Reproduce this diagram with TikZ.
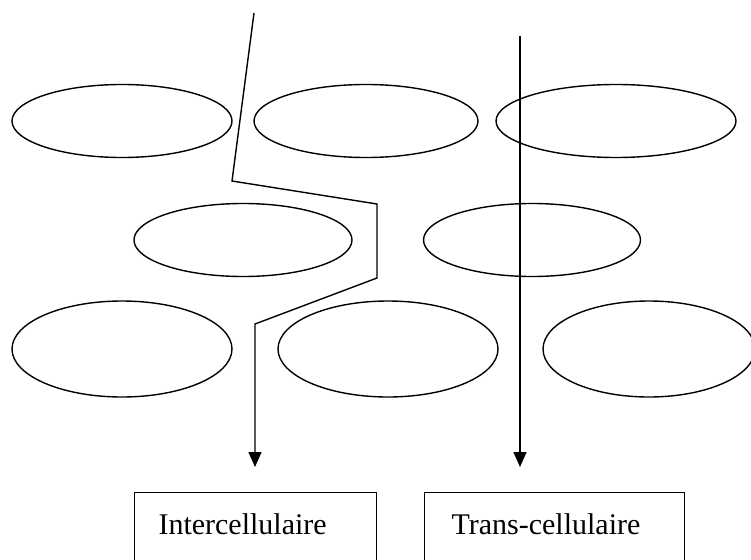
\documentclass[tikz,border=0pt]{standalone}
\usepackage{fontspec}
\setmainfont{Liberation Serif}
\usetikzlibrary{shapes.geometric,arrows.meta}
\begin{document}
\begin{tikzpicture}[x=1pt,y=-1pt,
  cell/.style={draw,line width=1.4pt,ellipse,inner sep=0pt},
  route/.style={line width=1.4pt},
  arrowtip/.style={-{Triangle[width=13pt,length=15pt]}},
  outbox/.style={draw,line width=1pt,rectangle,inner sep=0pt,anchor=north west},
  label/.style={anchor=base west,font=\fontsize{30}{34}\selectfont}]
\useasboundingbox (0,0) rectangle (751,559);
\clip (0,0) rectangle (751,559);
% cells
\node[cell,minimum width=220pt,minimum height=73pt] (e1) at (122,121) {};
\node[cell,minimum width=224pt,minimum height=73pt] (e2) at (366,121) {};
\node[cell,minimum width=240pt,minimum height=73pt] (e3) at (616,121) {};
\node[cell,minimum width=218pt,minimum height=73pt] (e4) at (243,240) {};
\node[cell,minimum width=217pt,minimum height=73pt] (e5) at (532,240) {};
\node[cell,minimum width=220pt,minimum height=96pt] (e6) at (122,349) {};
\node[cell,minimum width=220pt,minimum height=96pt] (e7) at (388,349) {};
\node[cell,minimum width=212pt,minimum height=96pt] (e8) at (649,349) {};
% output boxes
\node[outbox,minimum width=242pt,minimum height=90pt] (b1) at (134,492) {};
\node[outbox,minimum width=260pt,minimum height=90pt] (b2) at (424,492) {};
\node[label] (t1) at (155,534) {Intercellulaire};
\node[label] (t2) at (448,534) {Trans-cellulaire};
% intercellular route
\coordinate (p0) at (254,13);
\coordinate (p1) at (232,181);
\coordinate (p2) at (377,204);
\coordinate (p3) at (377,278);
\coordinate (p4) at (255,324);
\coordinate (p5) at (255,467);
\draw[route,arrowtip] (p0) -- (p1) -- (p2) -- (p3) -- (p4) -- (p5);
% transcellular route
\coordinate (q0) at (520,36);
\coordinate (q1) at (520,467);
\draw[route,arrowtip] (q0) -- (q1);
\end{tikzpicture}
\end{document}
